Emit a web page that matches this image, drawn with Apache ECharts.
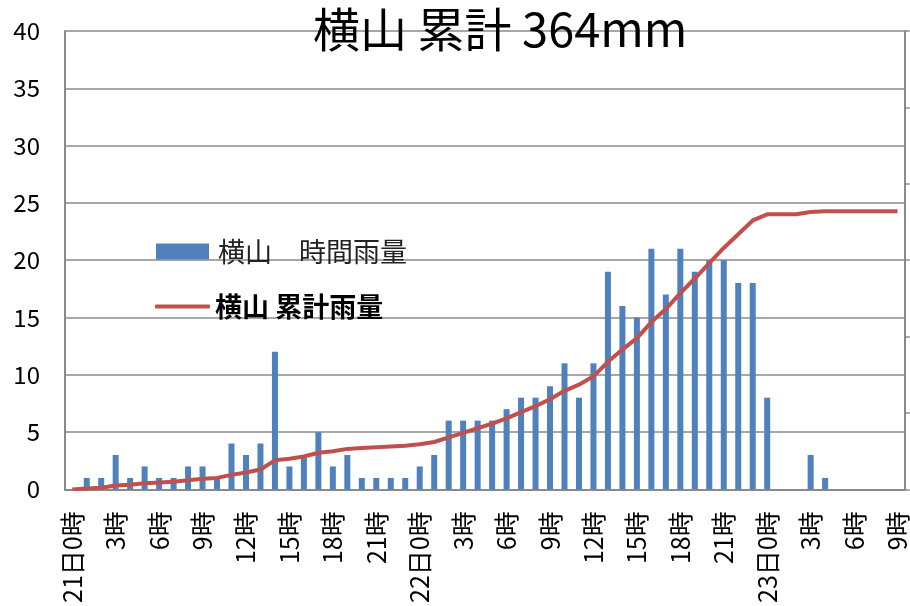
<!DOCTYPE html>
<html>
<head>
<meta charset="utf-8">
<script src="https://cdn.jsdelivr.net/npm/echarts@6/dist/echarts.min.js"></script>
<style>
  html, body { margin: 0; padding: 0; background: #fff; }
  #chart { width: 910px; height: 606px; }
</style>
</head>
<body>
<div id="chart"></div>
<script>
// Hourly time labels, 21日0時 through 23日9時
const hours = [
  '21日0時','1時','2時','3時','4時','5時','6時','7時','8時','9時','10時','11時',
  '12時','13時','14時','15時','16時','17時','18時','19時','20時','21時','22時','23時',
  '22日0時','1時','2時','3時','4時','5時','6時','7時','8時','9時','10時','11時',
  '12時','13時','14時','15時','16時','17時','18時','19時','20時','21時','22時','23時',
  '23日0時','1時','2時','3時','4時','5時','6時','7時','8時','9時'
];

// Hourly rainfall (mm)
const hourlyRain = [
  0, 1, 1, 3, 1, 2, 1, 1, 2, 2, 1, 4,
  3, 4, 12, 2, 3, 5, 2, 3, 1, 1, 1, 1,
  2, 3, 6, 6, 6, 6, 7, 8, 8, 9, 11, 8,
  11, 19, 16, 15, 21, 17, 21, 19, 20, 20, 18, 18,
  8, 0, 0, 3, 1, 0, 0, 0, 0, 0
];

// Cumulative rainfall (mm)
const cumulativeRain = [
  0, 1, 2, 5, 6, 8, 9, 10, 12, 14, 15, 19,
  22, 26, 38, 40, 43, 48, 50, 53, 54, 55, 56, 57,
  59, 62, 68, 74, 80, 86, 93, 101, 109, 118, 129, 137,
  148, 167, 183, 198, 219, 236, 257, 276, 296, 316, 334, 352,
  360, 360, 360, 363, 364, 364, 364, 364, 364, 364
];

const titleText = '横山 累計 364mm';
const barName = '横山　時間雨量';
const lineName = '横山 累計雨量';

const FONT = '"Noto Sans CJK JP", "Noto Sans", sans-serif';
const GRID_GRAY = '#8a8a8a';

const chart = echarts.init(document.getElementById('chart'), null, { renderer: 'canvas' });

chart.setOption({
  animation: false,
  backgroundColor: '#ffffff',
  textStyle: { fontFamily: FONT },
  title: {
    text: titleText,
    left: 313,
    top: 6,
    padding: 0,
    textStyle: { fontFamily: FONT, fontSize: 47, fontWeight: 'normal', color: '#000' }
  },
  legend: [
    {
      data: [barName],
      left: 156,
      top: 238,
      padding: 0,
      icon: 'rect',
      itemWidth: 53,
      itemHeight: 16,
      textStyle: { fontFamily: FONT, fontSize: 27, color: '#222', padding: [0, 0, 0, 4] }
    },
    {
      data: [{ name: lineName, textStyle: { fontWeight: 'bold' } }],
      left: 155,
      top: 293,
      padding: 0,
      icon: 'roundRect',
      itemWidth: 55,
      itemHeight: 4,
      itemStyle: { color: '#C0504D' },
      textStyle: { fontFamily: FONT, fontSize: 27, color: '#000', fontWeight: 'bold' }
    }
  ],
  grid: { left: 65, right: 5, top: 31, bottom: 116, containLabel: false },
  xAxis: {
    type: 'category',
    data: hours,
    boundaryGap: true,
    axisLine: { show: true, lineStyle: { color: GRID_GRAY, width: 2 } },
    axisTick: { show: false },
    axisLabel: {
      interval: 2,
      rotate: 90,
      margin: 22,
      fontFamily: FONT,
      fontSize: 25,
      color: '#000'
    }
  },
  yAxis: [
    {
      type: 'value',
      min: 0,
      max: 40,
      interval: 5,
      axisLine: { show: true, lineStyle: { color: GRID_GRAY, width: 2 } },
      axisTick: { show: false },
      splitLine: { show: true, lineStyle: { color: GRID_GRAY, width: 1.5 } },
      axisLabel: { margin: 25, fontFamily: FONT, fontSize: 24, color: '#000' }
    },
    {
      type: 'value',
      min: 0,
      max: 600,
      interval: 100,
      position: 'right',
      axisLine: { show: true, lineStyle: { color: GRID_GRAY, width: 2 } },
      axisTick: { show: true, inside: false, length: 5, lineStyle: { color: GRID_GRAY, width: 1.5 } },
      splitLine: { show: false },
      axisLabel: { show: false }
    }
  ],
  series: [
    {
      name: barName,
      type: 'bar',
      yAxisIndex: 0,
      data: hourlyRain,
      barWidth: 6,
      itemStyle: { color: '#4F81BD' }
    },
    {
      name: lineName,
      type: 'line',
      yAxisIndex: 1,
      data: cumulativeRain,
      showSymbol: false,
      symbol: 'none',
      lineStyle: { color: '#C0504D', width: 4 },
      itemStyle: { color: '#C0504D' },
      z: 3
    }
  ]
});
</script>
</body>
</html>
